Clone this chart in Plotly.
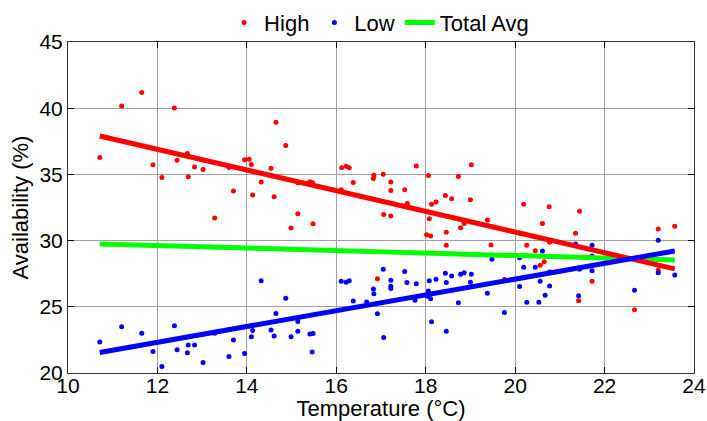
import plotly.graph_objects as go

# ---- data ----
high_temp = [10.71, 11.20, 11.65, 11.90, 12.10, 12.38, 12.44, 12.67, 12.69, 12.83,
             13.02, 13.28, 13.60, 13.70, 13.95, 14.05, 14.10, 14.13, 14.32, 14.54,
             14.61, 14.65, 14.87, 14.99, 15.14, 15.14, 15.41, 15.47, 15.48, 16.11,
             16.12, 16.22, 16.29, 16.38, 16.83, 16.84, 16.92, 17.05, 17.06, 17.22,
             17.22, 17.22, 17.53, 17.59, 17.79, 18.02, 18.06, 18.08, 18.11, 18.13,
             18.23, 18.44, 18.46, 18.46, 18.58, 18.73, 18.78, 18.86, 19.00, 19.02,
             19.38, 19.46, 19.76, 20.11, 20.19, 20.26, 20.45, 20.56, 20.61, 20.65,
             20.76, 20.77, 21.35, 21.42, 21.44, 21.72, 22.67, 23.20, 23.20, 23.57]
high_avail = [36.28, 40.17, 41.18, 35.72, 34.77, 40.02, 36.07, 36.58, 34.82, 35.55,
              35.37, 31.70, 35.52, 33.74, 36.10, 36.15, 35.75, 33.44, 34.42, 35.47,
              33.31, 38.94, 37.18, 30.95, 32.03, 34.37, 34.44, 34.37, 31.27, 33.84,
              35.50, 35.62, 35.50, 34.39, 34.69, 34.94, 27.11, 35.02, 31.98, 34.42,
              33.79, 31.85, 33.84, 32.81, 35.64, 30.44, 34.92, 31.65, 30.35, 32.74,
              32.91, 33.41, 30.63, 29.65, 33.16, 34.85, 30.97, 31.30, 33.08, 35.72,
              31.55, 29.66, 27.08, 30.55, 32.74, 29.65, 29.24, 28.14, 31.30, 28.41,
              32.56, 29.87, 30.55, 25.45, 32.21, 26.93, 24.77, 30.87, 27.78, 31.08]

low_temp = [10.71, 11.20, 11.65, 11.90, 12.10, 12.38, 12.44, 12.67, 12.69, 12.83,
            13.02, 13.28, 13.60, 13.70, 13.95, 14.10, 14.13, 14.32, 14.54, 14.61,
            14.65, 14.87, 14.99, 15.14, 15.14, 15.41, 15.48, 15.46, 16.11, 16.22,
            16.29, 16.38, 16.68, 16.83, 16.84, 16.92, 17.05, 17.06, 17.22, 17.22,
            17.22, 17.53, 17.58, 17.76, 17.79, 18.06, 18.04, 18.11, 18.13, 18.08,
            18.23, 18.44, 18.46, 18.46, 18.58, 18.73, 18.78, 18.86, 19.00, 19.02,
            19.38, 19.48, 19.76, 20.10, 20.10, 20.19, 20.26, 20.45, 20.53, 20.56,
            20.61, 20.67, 20.77, 20.77, 21.35, 21.42, 21.44, 21.72, 21.72, 21.72,
            22.67, 23.20, 23.20, 23.57]
low_avail = [22.34, 23.49, 23.01, 21.63, 20.50, 23.56, 21.76, 21.53, 22.11, 22.11,
             20.80, 23.01, 21.25, 22.49, 21.48, 22.74, 23.21, 26.96, 23.24, 22.79,
             24.49, 25.65, 22.74, 23.89, 23.16, 22.94, 22.98, 21.58, 26.93, 26.86,
             26.96, 25.43, 25.37, 26.35, 25.98, 24.47, 27.84, 22.68, 27.01, 26.56,
             26.38, 27.66, 26.83, 25.50, 26.75, 26.20, 25.80, 25.60, 23.87, 26.96,
             27.08, 27.54, 26.83, 23.16, 27.33, 25.30, 27.46, 27.58, 26.86, 27.46,
             26.03, 28.59, 24.57, 28.71, 26.53, 27.99, 25.35, 27.99, 25.35, 26.93,
             29.22, 25.88, 26.58, 27.63, 29.74, 25.83, 27.84, 29.65, 28.84, 27.73,
             26.25, 30.02, 27.58, 27.41]

# trend-line end points (temperature range, fitted values)
fit_temp = [10.71, 23.57]
high_fit = [37.90, 27.86]
low_fit = [21.55, 29.22]
avg_fit = [29.74, 28.54]

x_ticks = [10, 12, 14, 16, 18, 20, 22, 24]
y_ticks = [20, 25, 30, 35, 40, 45]

FONT = "Liberation Sans, Arial, sans-serif"

fig = go.Figure()
fig.add_trace(go.Scatter(x=high_temp, y=high_avail, mode="markers", name="High",
                         marker=dict(color="#ff0000", size=5)))
fig.add_trace(go.Scatter(x=low_temp, y=low_avail, mode="markers", name="Low",
                         marker=dict(color="#0000ff", size=5)))
fig.add_trace(go.Scatter(x=fit_temp, y=avg_fit, mode="lines", name="Total Avg",
                         line=dict(color="#00ff00", width=5)))
fig.add_trace(go.Scatter(x=fit_temp, y=high_fit, mode="lines", showlegend=False,
                         line=dict(color="#ff0000", width=5)))
fig.add_trace(go.Scatter(x=fit_temp, y=low_fit, mode="lines", showlegend=False,
                         line=dict(color="#0000ff", width=5)))

axis_common = dict(
    showline=True, linecolor="#333333", linewidth=1, mirror="ticks",
    ticks="inside", ticklen=6, tickcolor="#000000",
    showgrid=True, gridcolor="#a0a0a0", gridwidth=1,
    zeroline=False, automargin=False,
    tickfont=dict(family=FONT, size=21, color="#000000"),
)

fig.update_xaxes(range=[10, 24], tickvals=x_ticks, ticklabelstandoff=-6,
                 title=dict(text="Temperature (°C)", font=dict(family=FONT, size=22, color="#000000"),
                            standoff=2),
                 **axis_common)
fig.update_yaxes(range=[20, 45], tickvals=y_ticks,
                 title=dict(text="Availability (%)", font=dict(family=FONT, size=22, color="#000000"),
                            standoff=4),
                 **axis_common)

fig.update_layout(
    width=707, height=421,
    margin=dict(l=68, r=13, t=42, b=48, autoexpand=False),
    paper_bgcolor="#ffffff", plot_bgcolor="#ffffff",
    font=dict(family=FONT, size=22, color="#000000"),
    showlegend=True,
    legend=dict(orientation="h", x=0.497, xanchor="center", y=1.058, yanchor="middle",
                font=dict(family=FONT, size=22, color="#000000"),
                itemwidth=30, tracegroupgap=0, bgcolor="rgba(0,0,0,0)",
                itemclick=False, itemdoubleclick=False),
)

fig.write_html("out.html")
